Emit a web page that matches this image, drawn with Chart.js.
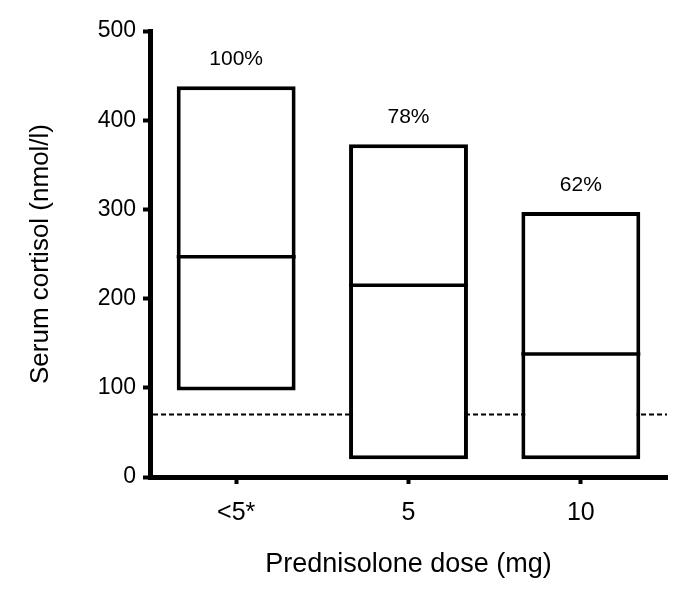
<!DOCTYPE html>
<html>
<head>
<meta charset="utf-8">
<script src="https://cdn.jsdelivr.net/npm/chart.js@4.4.1/dist/chart.umd.min.js"></script>
<style>
  html, body { margin: 0; padding: 0; background: #fff; }
  #wrap { width: 685px; height: 601px; }
</style>
</head>
<body>
<div id="wrap"><canvas id="chart"></canvas></div>
<script>
const doses = ['<5*', '5', '10'];
const lows = [97, 20, 20];
const highs = [438, 373, 297];
const medians = [247, 215, 138];
const percents = ['100%', '78%', '62%'];
const threshold = 70;
const yTicks = [0, 100, 200, 300, 400, 500];

const font = "'Liberation Sans', Arial, sans-serif";

// dashed cut-off line, drawn under the boxes
const cutoffLine = {
    id: 'cutoffLine',
    beforeDatasetsDraw(chart) {
        const { ctx, chartArea, scales } = chart;
        const y = scales.y.getPixelForValue(threshold);
        ctx.save();
        ctx.strokeStyle = '#000';
        ctx.lineWidth = 2;
        ctx.setLineDash([5, 3]);
        ctx.beginPath();
        ctx.moveTo(chartArea.left + 3, y);
        ctx.lineTo(chartArea.right, y);
        ctx.stroke();
        ctx.restore();
    }
};

// median line inside each box + percent label above
const boxExtras = {
    id: 'boxExtras',
    afterDatasetsDraw(chart) {
        const { ctx, scales } = chart;
        const meta = chart.getDatasetMeta(0);
        ctx.save();
        meta.data.forEach((bar, i) => {
            const half = bar.width / 2;
            const y = scales.y.getPixelForValue(medians[i]);
            ctx.strokeStyle = '#000';
            ctx.lineWidth = 3.5;
            ctx.beginPath();
            ctx.moveTo(bar.x - half, y);
            ctx.lineTo(bar.x + half, y);
            ctx.stroke();

            const top = scales.y.getPixelForValue(highs[i]);
            ctx.fillStyle = '#000';
            ctx.font = '21px ' + font;
            ctx.textAlign = 'center';
            ctx.textBaseline = 'middle';
            ctx.fillText(percents[i], bar.x, top - 27);
        });
        ctx.restore();
    }
};

new Chart(document.getElementById('chart'), {
    type: 'bar',
    data: {
        labels: doses,
        datasets: [{
            data: lows.map((lo, i) => [lo, highs[i]]),
            backgroundColor: '#fff',
            borderColor: '#000',
            borderWidth: 4,
            borderSkipped: false,
            barPercentage: 0.69,
            categoryPercentage: 1
        }]
    },
    options: {
        responsive: true,
        maintainAspectRatio: false,
        animation: false,
        layout: {
            padding: { top: 31, right: 18, left: 0, bottom: 0 }
        },
        plugins: {
            legend: { display: false },
            tooltip: { enabled: false }
        },
        scales: {
            x: {
                afterFit: function (scale) { scale.height = 124; },
                border: { display: true, color: '#000', width: 5 },
                grid: {
                    offset: false,
                    drawOnChartArea: false,
                    drawTicks: true,
                    tickLength: 7,
                    tickWidth: 4,
                    tickColor: '#000'
                },
                ticks: {
                    color: '#000',
                    padding: 14,
                    font: { family: font, size: 25 }
                },
                title: {
                    display: true,
                    text: 'Prednisolone dose (mg)',
                    color: '#000',
                    font: { family: font, size: 27 },
                    padding: { top: 0, bottom: 20 }
                }
            },
            y: {
                min: 0,
                max: 500,
                afterFit: function (scale) { scale.width = 150; },
                afterBuildTicks: function (scale) {
                    scale.ticks = yTicks.map(v => ({ value: v }));
                },
                border: { display: true, color: '#000', width: 5 },
                grid: {
                    drawOnChartArea: false,
                    drawTicks: true,
                    tickLength: 7,
                    tickWidth: 4,
                    tickColor: '#000'
                },
                ticks: {
                    color: '#000',
                    padding: 7,
                    font: { family: font, size: 23 }
                },
                title: {
                    display: true,
                    text: 'Serum cortisol (nmol/l)',
                    color: '#000',
                    font: { family: font, size: 26 },
                    padding: { top: 25, bottom: 0 }
                }
            }
        }
    },
    plugins: [cutoffLine, boxExtras]
});
</script>
</body>
</html>
